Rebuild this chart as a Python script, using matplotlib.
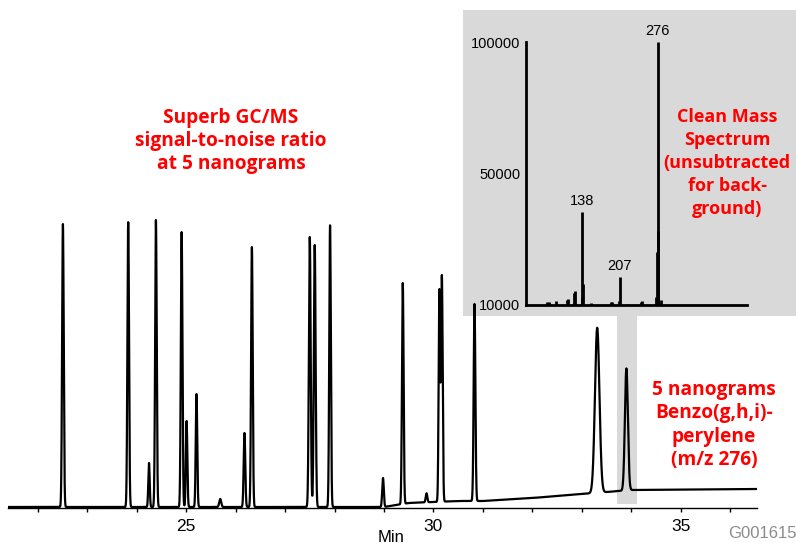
import numpy as np
import matplotlib.pyplot as plt
from matplotlib.patches import Rectangle

# ======================
# DATA
# ======================

# chromatogram peaks: retention time (min), height, width (sigma, min)
peak_rt = [22.51, 23.83, 24.25, 24.39, 24.91, 25.01, 25.21, 25.69, 26.18, 26.33,
           27.50, 27.60, 27.91, 28.98, 29.38, 29.86, 30.12, 30.17, 30.83, 33.31, 33.90]
peak_h = [283, 285, 44, 287, 275, 86, 113, 8, 74, 260,
          270, 262, 282, 29, 221, 9, 211, 226, 197, 165, 122]
peak_w = [0.016, 0.016, 0.014, 0.016, 0.016, 0.015, 0.015, 0.02, 0.016, 0.016,
          0.018, 0.018, 0.016, 0.016, 0.016, 0.016, 0.015, 0.016, 0.017, 0.045, 0.030]

# slowly rising baseline (time, level)
base_t = [21.40, 29.0, 29.5, 30.5, 31.0, 32.0, 33.0, 34.0, 36.54]
base_y = [1, 1, 5, 7, 7, 10, 14, 18, 19]

# mass spectrum of the highlighted peak (m/z, relative abundance)
ms_mz = [74, 77, 91, 110, 112, 124, 125, 137, 138, 139, 155, 191, 193,
         206, 207, 222, 245, 248, 274, 275, 276, 277, 283]
ms_int = [1.3, 1.0, 1.6, 2.0, 2.4, 4.5, 5.2, 3.0, 35.5, 8.0, 0.6, 1.0, 1.2,
          1.5, 10.5, 0.5, 1.2, 1.4, 3.0, 20.0, 100.0, 28.0, 2.0]
ms_labels = [138, 207, 276]
ms_yticks = [0, 50, 100]
ms_yticklabels = ['10000', '50000', '100000']

time_ticks = [25, 30, 35]

# ======================
# BUILD TRACE
# ======================

t = np.linspace(21.40, 36.54, 9000)
trace = np.interp(t, base_t, base_y).astype(float)
for rt, h, w in zip(peak_rt, peak_h, peak_w):
    trace += h * np.exp(-0.5 * ((t - rt) / w) ** 2)

# ======================
# PLOT
# ======================

W, H = 796, 543
fig = plt.figure(figsize=(W / 100, H / 100), dpi=100)

def fx(px):
    return px / W

def fy(py):
    return 1 - py / H

red = '#ff0000'
grey = '#d9d9d9'

# grey inset box and the band tying it to the peak
fig.patches.append(Rectangle((fx(462.7), fy(315.7)), fx(W - 462.7), (315.7 - 10) / H,
                             transform=fig.transFigure, facecolor=grey,
                             edgecolor='none', zorder=-2))
fig.patches.append(Rectangle((fx(617.3), fy(504)), fx(20), (504 - 315.7) / H,
                             transform=fig.transFigure, facecolor=grey,
                             edgecolor='none', zorder=-2))

# main chromatogram
ax = fig.add_axes([fx(8), fy(508), fx(749), 300 / H])
ax.set_facecolor('none')
ax.plot(t, trace, color='black', lw=1.6)
ax.set_xlim(21.40, 36.54)
ax.set_ylim(0, 300)
for s in ['top', 'right', 'left']:
    ax.spines[s].set_visible(False)
ax.spines['bottom'].set_linewidth(1.0)
ax.set_yticks([])
ax.set_xticks(time_ticks)
ax.set_xticks(np.arange(22, 37), minor=True)
ax.tick_params(axis='x', which='both', length=3, width=1, pad=5,
               labelsize=12.5)
for lab in ax.get_xticklabels():
    lab.set_family('Liberation Sans')

fig.text(fx(391), fy(537), 'Min', ha='center', va='center',
         fontsize=12, family='Liberation Sans')
fig.text(fx(762), fy(533), 'G001615', ha='center', va='center',
         fontsize=12, family='Liberation Sans', color='#8c8c8c')

# mass spectrum inset
ax2 = fig.add_axes([fx(525.7), fy(305), fx(221.6), 262.7 / H])
ax2.set_facecolor('none')
ax2.vlines(ms_mz, 0, ms_int, color='black', lw=2)
ax2.set_xlim(35, 440)
ax2.set_ylim(0, 100)
for s in ['top', 'right']:
    ax2.spines[s].set_visible(False)
ax2.spines['left'].set_linewidth(2)
ax2.spines['bottom'].set_linewidth(2)
ax2.set_xticks([])
ax2.set_yticks(ms_yticks)
ax2.set_yticklabels(ms_yticklabels, family='Liberation Sans', fontsize=10.5)
ax2.tick_params(axis='y', length=0, pad=4)
for m in ms_labels:
    v = ms_int[ms_mz.index(m)]
    ax2.text(m, v + 1.5, str(m), ha='center', va='bottom',
             fontsize=10.5, family='Liberation Sans')

# red annotations
bold = dict(color=red, fontweight='bold', family='Open Sans', fontsize=13.8,
            ha='center', va='center', linespacing=1.22)
fig.text(fx(231), fy(141), 'Superb GC/MS\nsignal-to-noise ratio\nat 5 nanograms', **bold)
fig.text(fx(714), fy(425), '5 nanograms\nBenzo(g,h,i)-\nperylene\n(m/z 276)', **bold)
bold.update(fontsize=13, linespacing=1.36)
fig.text(fx(727), fy(163), 'Clean Mass\nSpectrum\n(unsubtracted\nfor back-\nground)', **bold)

fig.savefig('out.png', dpi=100)
